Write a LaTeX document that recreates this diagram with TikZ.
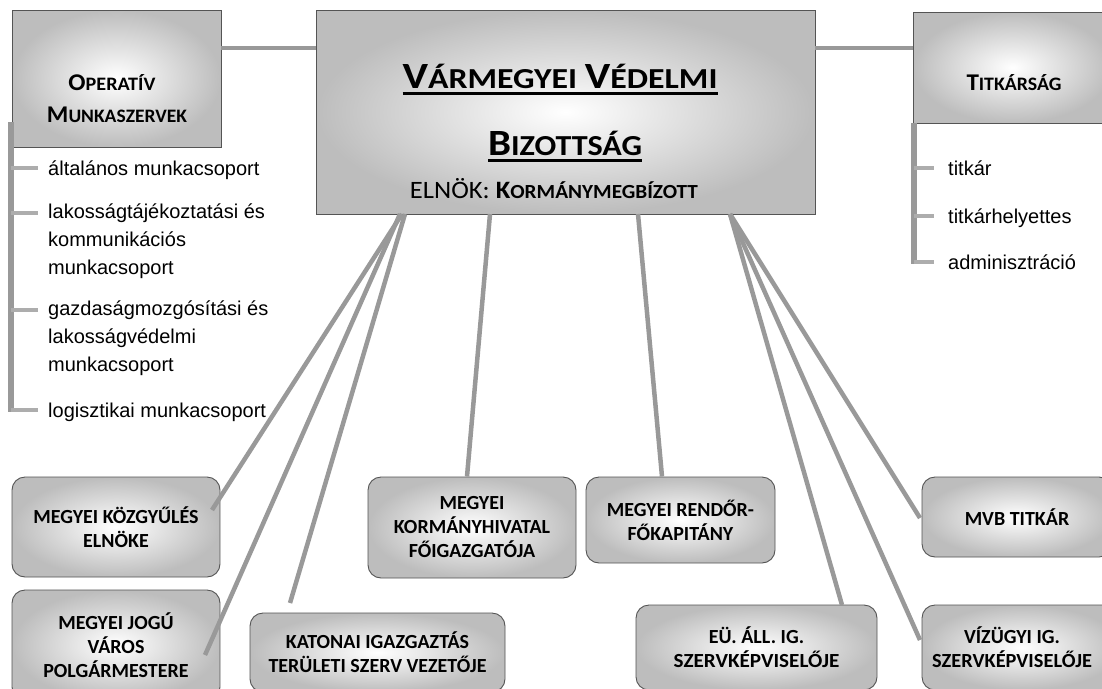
\documentclass[tikz,border=0pt]{standalone}
\usepackage{fontspec}
\usepackage{graphicx}
\setmainfont{Liberation Sans}
\newfontfamily\calfont{Carlito}
\definecolor{lnk}{gray}{0.6}
\definecolor{stubc}{gray}{0.68}
\definecolor{edg}{gray}{0.33}
\definecolor{bxo}{gray}{0.74}
\newcommand{\ulbox}[1]{\setbox0\hbox{#1}\rlap{\rule[-7pt]{\wd0}{2.6pt}}\box0}
% faked small caps: big size, small size, first letter, rest
\newcommand{\fsc}[4]{{\fontsize{#1}{#1}\selectfont #3}{\fontsize{#2}{#2}\selectfont #4}}
\newcommand{\wideline}[2]{\resizebox{#1}{\height}{#2}}
\begin{document}
\begin{tikzpicture}[x=1pt,y=-1pt,
  box/.style={draw=edg,line width=0.9pt,shading=radial,inner color=white,outer color=bxo,inner sep=0pt},
  rbox/.style={box,rounded corners=13pt,font=\calfont\bfseries\fontsize{20}{24}\selectfont,align=center,text=black},
  conn/.style={draw=lnk,line width=4.5pt},
  hconn/.style={draw=lnk,line width=4.5pt},
  listbar/.style={draw=lnk,line width=6pt},
  stub/.style={draw=stubc,line width=3.5pt},
  item/.style={font=\fontsize{20}{28}\selectfont,inner sep=0pt,align=left,text=black},
  ttl/.style={font=\calfont\bfseries,inner sep=0pt,text=black}]
\useasboundingbox (0,0) rectangle (1102,688);
\fill[white] (0,0) rectangle (1102,688);

% main boxes
\node[box,minimum width=209pt,minimum height=137pt] (op) at (116.5,78.5) {};
\node[box,minimum width=499pt,minimum height=204pt] (vvb) at (565.5,112) {};
\node[box,minimum width=199pt,minimum height=111pt] (tit) at (1012.5,67.5) {};

% horizontal links
\draw[hconn] (op.east |- 0,48) -- (vvb.west |- 0,48);
\draw[hconn] (vvb.east |- 0,48) -- (tit.west |- 0,48);

% titles
\node[ttl,anchor=base] (opt1) at (112,90) {\resizebox{87pt}{\height}{\fsc{24}{19}{O}{PERATÍV}}};
\node[ttl,anchor=base] (opt2) at (117,122) {\resizebox{140pt}{\height}{\fsc{24}{19}{M}{UNKASZERVEK}}};
\node[ttl,anchor=base] (titt) at (1014,90) {\resizebox{95pt}{\height}{\fsc{24}{19}{T}{ITKÁRSÁG}}};
\node[ttl,anchor=base] (vt1) at (560,88) {\ulbox{\resizebox{315pt}{\height}{\fsc{37}{29}{V}{ÁRMEGYEI}\fontsize{29}{29}\selectfont\ \fsc{37}{29}{V}{ÉDELMI}}}};
\node[ttl,anchor=base] (vt2) at (565,155) {\ulbox{\resizebox{154pt}{\height}{\fsc{37}{29}{B}{IZOTTSÁG}}}};
\node[font=\calfont,inner sep=0pt,anchor=base,text=black] (vt3) at (554,198) {\resizebox{288pt}{\height}{\fontsize{25}{25}\selectfont ELNÖK: {\bfseries\fsc{25}{20}{K}{ORMÁNYMEGBÍZOTT}}}};

% left list
\draw[listbar] (11,122) -- (11,412);
\draw[stub] (11,168) -- (38,168);
\draw[stub] (11,213) -- (38,213);
\draw[stub] (11,310) -- (38,310);
\draw[stub] (11,410) -- (38,410);
\node[item,anchor=base west] (l1) at (48,175) {általános munkacsoport};
\node[item,anchor=north west] (l2) at (48,199) {\strut lakosságtájékoztatási és\\kommunikációs\\munkacsoport};
\node[item,anchor=north west] (l3) at (48,296) {\strut gazdaságmozgósítási és\\lakosságvédelmi\\munkacsoport};
\node[item,anchor=base west] (l4) at (48,417) {logisztikai munkacsoport};

% right list
\draw[listbar] (914,123) -- (914,264);
\draw[stub] (914,168) -- (934,168);
\draw[stub] (914,216) -- (934,216);
\draw[stub] (914,262) -- (934,262);
\node[item,anchor=base west] (r1) at (948,175) {titkár};
\node[item,anchor=base west] (r2) at (948,223) {titkárhelyettes};
\node[item,anchor=base west] (r3) at (948,269) {adminisztráció};

% bottom boxes
\node[rbox,minimum width=208pt,minimum height=100pt] (kozgy) at (116,527) {MEGYEI KÖZGYŰLÉS\\ELNÖKE};
\node[rbox,minimum width=208pt,minimum height=110pt] (jogu) at (116,645) {MEGYEI JOGÚ\\VÁROS\\POLGÁRMESTERE};
\node[rbox,minimum width=255pt,minimum height=79pt] (katon) at (377.5,652.5) {KATONAI IGAZGAZTÁS\\TERÜLETI SZERV VEZETŐJE};
\node[rbox,minimum width=208pt,minimum height=101pt] (korm) at (472,527.5) {MEGYEI\\KORMÁNYHIVATAL\\FŐIGAZGATÓJA};
\node[rbox,minimum width=189pt,minimum height=86pt] (rend) at (680.5,520) {MEGYEI RENDŐR-\\FŐKAPITÁNY};
\node[rbox,minimum width=241pt,minimum height=85pt] (eu) at (756.5,647.5) {EÜ. ÁLL. IG.\\\wideline{166pt}{SZERVKÉPVISELŐJE}};
\node[rbox,minimum width=190pt,minimum height=80pt] (mvb) at (1017,517) {MVB TITKÁR};
\node[rbox,minimum width=200pt,minimum height=85pt] (viz) at (1022,647.5) {VÍZÜGYI IG.\hspace*{20pt}\\\wideline{160pt}{SZERVKÉPVISELŐJE}\hspace*{20pt}};

% connector end points
\coordinate (sA) at (402,214);
\coordinate (sB) at (400,214);
\coordinate (sC) at (405,214);
\coordinate (sD) at (490,214);
\coordinate (sE) at (638,214);
\coordinate (sF) at (730,214);
\coordinate (eA) at (212,510);
\coordinate (eB) at (205,655);
\coordinate (eC) at (290,603);
\coordinate (eF1) at (842,605);
\coordinate (eF2) at (920,640);
\coordinate (eF3) at (920,518);

\draw[conn] (sA) -- (eA);
\draw[conn] (sB) -- (eB);
\draw[conn] (sC) -- (eC);
\draw[conn] (sD) -- (korm.north -| 467,0);
\draw[conn] (sE) -- (rend.north -| 662,0);
\draw[conn] (sF) -- (eF1);
\draw[conn] (sF) -- (eF2);
\draw[conn] (sF) -- (eF3);
\end{tikzpicture}
\end{document}
